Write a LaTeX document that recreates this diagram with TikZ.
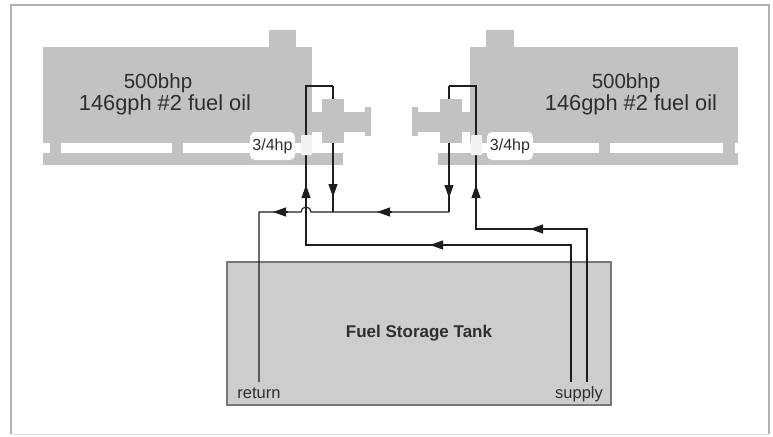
\documentclass[tikz,border=0pt]{standalone}
\usepackage{fontspec}
\setmainfont{Liberation Sans}
\usepackage{xcolor}
\usetikzlibrary{arrows.meta}

\definecolor{enginegray}{HTML}{C2C2C2}
\definecolor{tankgray}{HTML}{CDCDCD}
\definecolor{tankedge}{HTML}{777777}
\definecolor{pipeblack}{HTML}{1E1E1E}
\definecolor{framegray}{HTML}{B0B0B0}
\definecolor{textgray}{HTML}{2E2E2E}

\tikzset{
  engine/.style={fill=enginegray, draw=none},
  pipe/.style={draw=pipeblack, line width=1.1pt},
  flowtip/.style={pipe, -{Triangle[width=9pt,length=13pt]}},
  hplabel/.style={fill=white, rounded corners=5pt, draw=none},
  motorbox/.style={fill=white!95!black, draw=none, rounded corners=1pt},
  enginetext/.style={text=textgray, font=\fontsize{20.5}{24}\selectfont, anchor=base},
}

\begin{document}
\begin{tikzpicture}[x=1pt,y=-1pt]
\useasboundingbox (0,0) rectangle (773,436);

% Frame
\draw[framegray, line width=2pt] (11,434) -- (11,5) -- (769,5) -- (769,434);
\draw[framegray!40, line width=1pt] (11,434.5) -- (769,434.5);

% Left engine
\fill[engine] (269,30) rectangle (296,47);
\fill[engine] (43,47) rectangle (312,143);
\fill[engine] (50,138) rectangle (61,153);
\fill[engine] (172,138) rectangle (183,153);
\fill[engine] (43,153) rectangle (343,165);

% Right engine
\fill[engine] (486,30) rectangle (514,47);
\fill[engine] (470,47) rectangle (738,143);
\fill[engine] (599,138) rectangle (610,153);
\fill[engine] (723,138) rectangle (735,153);
\fill[engine] (438,153) rectangle (738,165);

% Storage tank
\node[fill=tankgray, draw=tankedge, line width=1.5pt, minimum width=384pt,
  minimum height=143pt, inner sep=0pt, text=textgray,
  font=\fontsize{17}{20}\selectfont\bfseries] (tank) at (419,333.5) {Fuel Storage Tank};

% Return line
\draw[pipe] (449,212) -- (311,212) arc[start angle=0, end angle=-180, radius=5]
  -- (259,212) -- (259,382);
\draw[pipe] (333,86) -- (333,212);
\draw[pipe] (449,86) -- (449,212);

% Supply lines
\draw[pipe] (571,382) -- (571,245) -- (306,245) -- (306,86) -- (333,86);
\draw[pipe] (587,382) -- (587,229) -- (476,229) -- (476,86) -- (449,86);

% Pumps
\fill[engine] (312,112) rectangle (322,132);
\fill[engine] (322,99) rectangle (344,143);
\fill[engine] (344,112) rectangle (365,132);
\fill[engine] (365,107) rectangle (371,136);
\fill[engine] (412,107) rectangle (418,136);
\fill[engine] (418,112) rectangle (440,132);
\fill[engine] (440,99) rectangle (462,143);
\fill[engine] (462,112) rectangle (470,132);

% Motors
\fill[motorbox] (301,135) rectangle (312,155);
\fill[motorbox] (471,135) rectangle (482,155);
\fill[hplabel] (250,132) rectangle (295,160);
\fill[hplabel] (487,132) rectangle (533,160);
\node[text=textgray, font=\fontsize{16}{19}\selectfont] (hpL) at (272.5,146) {3/4hp};
\node[text=textgray, font=\fontsize{16}{19}\selectfont] (hpR) at (510,146) {3/4hp};

% Engine ratings
\node[enginetext] (bhpL) at (158,88) {500bhp};
\node[enginetext, font=\fontsize{21.8}{24}\selectfont] (gphL) at (165,110) {146gph \#2 fuel oil};
\node[enginetext] (bhpR) at (626,88) {500bhp};
\node[enginetext, font=\fontsize{21.8}{24}\selectfont] (gphR) at (631,110) {146gph \#2 fuel oil};

% Tank labels
\node[text=textgray, anchor=base, font=\fontsize{16.5}{19}\selectfont] (ret) at (259,398) {return};
\node[text=textgray, anchor=base, font=\fontsize{16.5}{19}\selectfont] (sup) at (579,398) {supply};

% Flow arrows
\draw[flowtip] (306,199) -- (306,185);
\draw[flowtip] (333,183) -- (333,197);
\draw[flowtip] (449,184) -- (449,198);
\draw[flowtip] (476,199) -- (476,185);
\draw[flowtip] (288,212) -- (273,212);
\draw[flowtip] (392,212) -- (377,212);
\draw[flowtip] (545,229) -- (530,229);
\draw[flowtip] (445,245) -- (430,245);
\end{tikzpicture}
\end{document}
